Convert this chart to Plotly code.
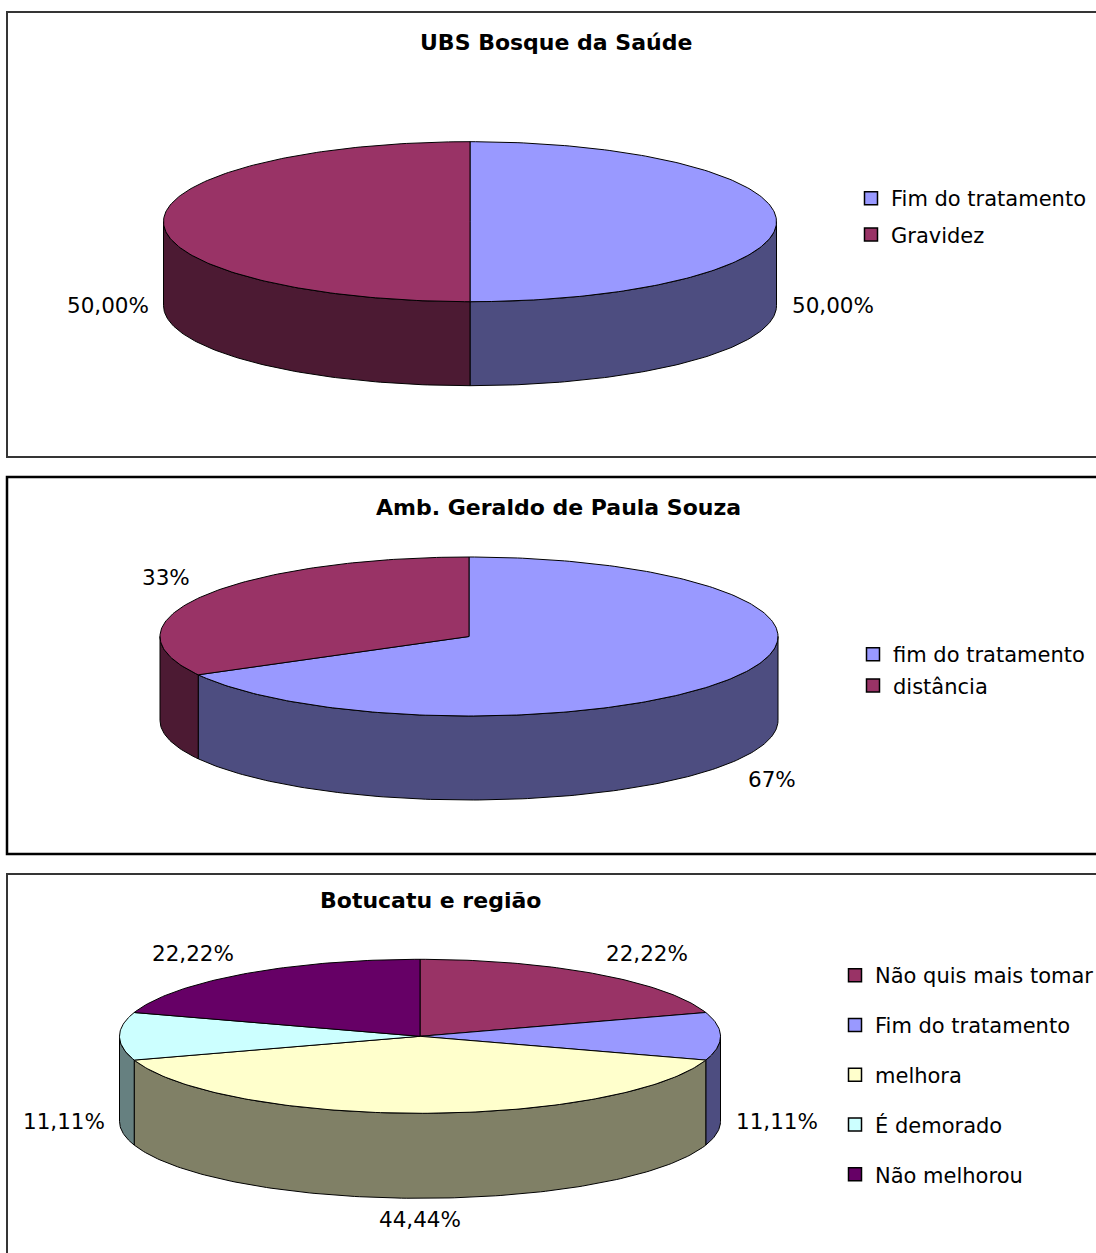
import math
import plotly.graph_objects as go

# ---- data -------------------------------------------------------------
ubs_title = "UBS Bosque da Saúde"
ubs_labels = ["Fim do tratamento", "Gravidez"]
ubs_values = [50.00, 50.00]

amb_title = "Amb. Geraldo de Paula Souza"
amb_labels = ["fim do tratamento", "distância"]
amb_values = [67, 33]

bot_title = "Botucatu e região"
bot_labels = ["Não quis mais tomar", "Fim do tratamento", "melhora", "É demorado", "Não melhorou"]
bot_values = [22.22, 11.11, 44.44, 11.11, 22.22]

# ---- style -------------------------------------------------------------
W, H = 1096, 1253
FONT = "DejaVu Sans"

PLUM = ("#993366", "#4C1A33")
PERI = ("#9999FF", "#4D4D80")
CREAM = ("#FFFFCC", "#808066")
ICE = ("#CCFFFF", "#668080")
GRAPE = ("#660066", "#330033")

ubs_colors = [PERI, PLUM]
amb_colors = [PERI, PLUM]
bot_colors = [PLUM, PERI, CREAM, ICE, GRAPE]

# frame of each chart (left, top, right, bottom) in pixels
frames = [(7, 12, 1104, 457), (7, 477, 1104, 854), (7, 874, 1104, 1262)]
frame_styles = [("#353535", 2), ("#000000", 2.5), ("#353535", 2)]

# ellipse geometry of each pie: centre, radii and wall height in pixels
pie_geom = [
    dict(cx=470, cy=221.7, rx=306.5, ry=80, depth=84),
    dict(cx=469, cy=636.5, rx=309, ry=79.5, depth=84),
    dict(cx=420, cy=1036.3, rx=300.5, ry=77, depth=85),
]

# title centres and legend placement in pixels
title_pos = [(556, 43), (558, 507), (430, 900)]
legend_pos = [(851, 178), (853, 634), (835, 955)]
legend_gaps = [6, 1, 19.5]


def px_x(x):
    return x / W


def px_y(y):
    return 1 - y / H


def fmt_two(v):
    return f"{v:.2f}".replace(".", ",") + "%"


def fmt_int(v):
    return f"{v:.0f}%"


def arc(a0, a1, step=1.0):
    n = max(2, int(abs(a1 - a0) / step) + 1)
    return [a0 + (a1 - a0) * i / (n - 1) for i in range(n)]


fig = go.Figure()
annotations = []
shapes = []
layout_axes = {}


def add_pie(k, title, labels, values, colors, fmt):
    g = pie_geom[k]
    suffix = "" if k == 0 else str(k + 1)
    xa, ya = "x" + suffix, "y" + suffix
    legend_id = "legend" + suffix

    rx, ry, d = g["rx"], g["ry"], g["depth"]
    t = ry / rx
    h = d / rx
    pad = 4.0
    layout_axes["xaxis" + suffix] = dict(
        domain=[px_x(g["cx"] - rx - pad), px_x(g["cx"] + rx + pad)],
        range=[-(rx + pad) / rx, (rx + pad) / rx],
        visible=False, fixedrange=True, anchor=ya,
    )
    layout_axes["yaxis" + suffix] = dict(
        domain=[px_y(g["cy"] + ry + d + pad), px_y(g["cy"] - ry - pad)],
        range=[-(ry + d + pad) / rx, (ry + pad) / rx],
        visible=False, fixedrange=True, anchor=xa,
    )

    def top(a):
        r = math.radians(a)
        return math.sin(r), t * math.cos(r)

    total = sum(values)
    bounds = []
    acc = 0.0
    for v in values:
        a0 = acc / total * 360.0
        acc += v
        a1 = acc / total * 360.0
        bounds.append((a0, a1))

    # outer walls of the front half (90..270 degrees, clockwise from 12 o'clock)
    for (a0, a1), (_, side) in zip(bounds, colors):
        b0, b1 = max(a0, 90.0), min(a1, 270.0)
        if b1 <= b0:
            continue
        fwd = arc(b0, b1)
        back = fwd[::-1]
        xs = [top(a)[0] for a in fwd] + [top(a)[0] for a in back] + [top(fwd[0])[0]]
        ys = [top(a)[1] for a in fwd] + [top(a)[1] - h for a in back] + [top(fwd[0])[1]]
        fig.add_trace(go.Scatter(
            x=xs, y=ys, mode="lines", fill="toself", fillcolor=side,
            line=dict(color="black", width=1), hoverinfo="skip",
            showlegend=False, xaxis=xa, yaxis=ya,
        ))

    # top faces
    for (a0, a1), (face, _) in zip(bounds, colors):
        pts = arc(a0, a1)
        xs = [0.0] + [top(a)[0] for a in pts] + [0.0]
        ys = [0.0] + [top(a)[1] for a in pts] + [0.0]
        fig.add_trace(go.Scatter(
            x=xs, y=ys, mode="lines", fill="toself", fillcolor=face,
            line=dict(color="black", width=1), hoverinfo="skip",
            showlegend=False, xaxis=xa, yaxis=ya,
        ))

    # value labels just outside each slice, at its mid angle
    for (a0, a1), v in zip(bounds, values):
        m = (a0 + a1) / 2.0
        s, c = math.sin(math.radians(m)), math.cos(math.radians(m))
        x, y = top(m)
        if c < 1e-6:
            y -= h  # front and side slices: anchor on the lower rim
        xanchor = "left" if s > 0.3 else ("right" if s < -0.3 else "center")
        yanchor = "bottom" if c > 0.3 else ("top" if c < -0.3 else "middle")
        annotations.append(dict(
            x=x, y=y, xref=xa, yref=ya, text=fmt(v), showarrow=False,
            xanchor=xanchor, yanchor=yanchor, xshift=13 * s, yshift=7 * c,
            font=dict(family=FONT, size=21.5, color="black"),
        ))

    # legend entries
    for i, (lab, (face, _)) in enumerate(zip(labels, colors)):
        fig.add_trace(go.Scatter(
            x=[None], y=[None], mode="markers", name=lab,
            marker=dict(symbol="square", size=13, color=face,
                        line=dict(color="black", width=1.5)),
            legend=legend_id, legendgroup=f"{legend_id}-{i}",
            xaxis=xa, yaxis=ya, hoverinfo="skip",
        ))

    lx, ly = legend_pos[k]
    layout_axes[legend_id] = dict(
        x=px_x(lx), y=px_y(ly), xanchor="left", yanchor="top",
        bgcolor="rgba(0,0,0,0)", borderwidth=0,
        font=dict(family=FONT, size=21, color="black"),
        tracegroupgap=legend_gaps[k], itemsizing="trace",
    )

    tx, ty = title_pos[k]
    annotations.append(dict(
        x=px_x(tx), y=px_y(ty), xref="paper", yref="paper",
        text=f"<b>{title}</b>", showarrow=False,
        xanchor="center", yanchor="middle",
        font=dict(family=FONT, size=22, color="black"),
    ))

    x0, y0, x1, y1 = frames[k]
    col, wid = frame_styles[k]
    shapes.append(dict(
        type="rect", xref="paper", yref="paper",
        x0=px_x(x0), x1=px_x(x1), y0=px_y(y1), y1=px_y(y0),
        line=dict(color=col, width=wid), fillcolor="rgba(0,0,0,0)",
        layer="below",
    ))


add_pie(0, ubs_title, ubs_labels, ubs_values, ubs_colors, fmt_two)
add_pie(1, amb_title, amb_labels, amb_values, amb_colors, fmt_int)
add_pie(2, bot_title, bot_labels, bot_values, bot_colors, fmt_two)

fig.update_layout(
    width=W, height=H,
    margin=dict(l=0, r=0, t=0, b=0, autoexpand=False),
    paper_bgcolor="white", plot_bgcolor="white",
    showlegend=True,
    annotations=annotations,
    shapes=shapes,
    **layout_axes,
)

fig.write_html("out.html")
